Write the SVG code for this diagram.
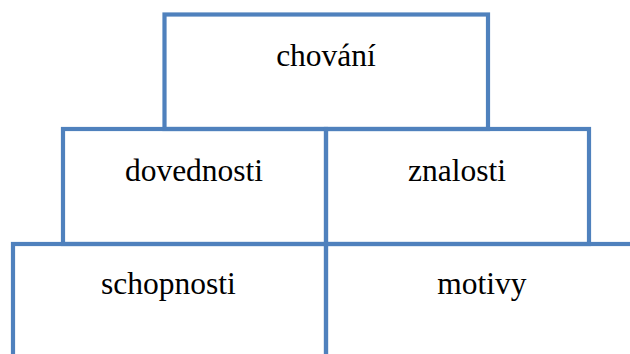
<svg xmlns="http://www.w3.org/2000/svg" width="630" height="354" viewBox="0 0 630 354">
<style>
.box{fill:none;stroke:#4F81BD;stroke-width:4.2;stroke-linejoin:miter}
.t{font-family:"Liberation Serif","Times New Roman",serif;font-size:31.5px;fill:#000;text-anchor:middle}
</style>
<rect width="630" height="354" fill="#fff"/>
<g id="chovani"><rect class="box" x="164.5" y="14.5" width="323.5" height="114.5"/><text class="t" x="326" y="66">chování</text></g>
<g id="dovednosti"><rect class="box" x="63" y="129" width="263" height="115"/><text class="t" x="194" y="181">dovednosti</text></g>
<g id="znalosti"><rect class="box" x="326" y="129" width="263" height="115"/><text class="t" x="457" y="181">znalosti</text></g>
<g id="schopnosti"><rect class="box" x="13" y="244" width="313" height="130"/><text class="t" x="168.5" y="293.5">schopnosti</text></g>
<g id="motivy"><rect class="box" x="326" y="244" width="320" height="130"/><text class="t" x="482" y="293.5">motivy</text></g>
<g id="connectors"></g>
</svg>
